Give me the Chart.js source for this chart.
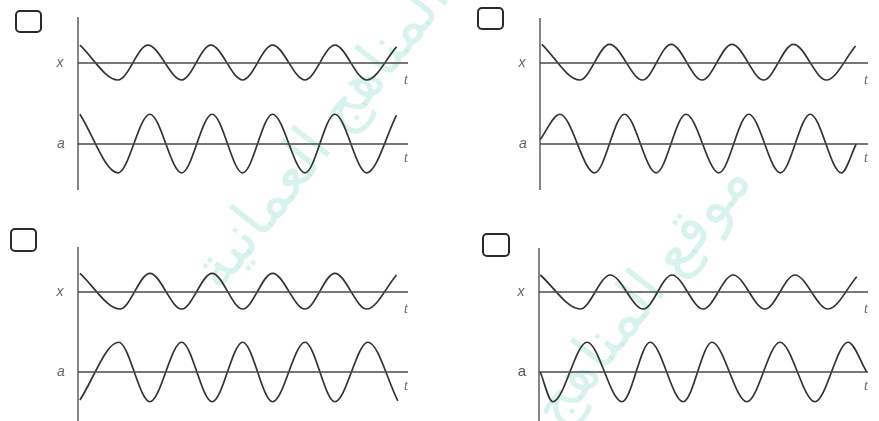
<!DOCTYPE html>
<html>
<head>
<meta charset="utf-8">
<script src="https://cdn.jsdelivr.net/npm/chart.js@4.4.1/dist/chart.umd.min.js"></script>
<style>
html, body { margin: 0; padding: 0; background: #fff; }
#page { position: relative; width: 879px; height: 421px; overflow: hidden; background: #fff; }
canvas.panel { position: absolute; }
.box { position: absolute; border: 2px solid #2a2a2a; border-radius: 5px; box-sizing: border-box; }
.wm { position: absolute; font-family: "Noto Sans", "DejaVu Sans", sans-serif; color: rgba(110, 212, 190, 0.27);
      white-space: nowrap; transform-origin: center center; font-weight: 400; }
</style>
</head>
<body>
<div id="page">
  <div class="wm" style="left:130px; top:90px; font-size:60px; transform: rotate(-52deg);">المناهج العمانية</div>
  <div class="wm" style="left:480px; top:250px; font-size:60px; transform: rotate(-52deg);">موقع المناهج</div>
</div>
<script>
// time is in periods, displacement in units of the x amplitude

// panel 1 (top left): a in phase with x
const p1xT = [0, 0.6, 1.07, 1.6, 2.06, 2.56, 3.03, 3.54, 4.01, 4.51, 4.98];
const p1xV = [1.05, -1, 1.05, -1, 1.05, -1, 1.05, -1, 1.05, -1, 0.95];
const p1aT = [0, 0.6, 1.1, 1.6, 2.08, 2.56, 3.03, 3.54, 4.01, 4.51, 4.98];
const p1aV = [1.75, -1.7, 1.75, -1.7, 1.75, -1.7, 1.75, -1.7, 1.75, -1.7, 1.7];

// panel 2 (top right): a a quarter period ahead
const p2xT = [0, 0.61, 1.09, 1.62, 2.08, 2.58, 3.06, 3.57, 4.05, 4.58, 5.05];
const p2xV = [1.1, -1, 1.1, -1, 1.1, -1, 1.1, -1, 1.1, -1, 1.0];
const p2aT = [-0.03, 0.29, 0.85, 1.33, 1.84, 2.32, 2.85, 3.33, 3.84, 4.32, 4.82, 5.06];
const p2aV = [0.25, 1.75, -1.7, 1.75, -1.7, 1.75, -1.7, 1.75, -1.7, 1.75, -1.7, 0];

// panel 3 (bottom left): a in antiphase with x
const p3xT = [0, 0.63, 1.1, 1.6, 2.08, 2.56, 3.03, 3.54, 4.01, 4.51, 4.98];
const p3xV = [1.1, -1, 1.1, -1, 1.1, -1, 1.1, -1, 1.1, -1, 1.0];
const p3aT = [0, 0.61, 1.1, 1.6, 2.08, 2.56, 3.03, 3.54, 4.01, 4.53, 5.0];
const p3aV = [-1.65, 1.75, -1.75, 1.75, -1.75, 1.75, -1.75, 1.75, -1.75, 1.75, -1.7];

// panel 4 (bottom right): a a quarter period behind
const p4xT = [0, 0.64, 1.12, 1.65, 2.11, 2.61, 3.09, 3.6, 4.08, 4.61, 5.07];
const p4xV = [1.0, -1, 1.0, -1, 1.0, -1, 1.0, -1, 1.0, -1, 0.9];
const p4aT = [0, 0.2, 0.75, 1.31, 1.76, 2.29, 2.75, 3.31, 3.84, 4.4, 4.93, 5.23];
const p4aV = [0, -1.75, 1.75, -1.75, 1.75, -1.75, 1.75, -1.75, 1.75, -1.75, 1.75, 0];

// visible time range of each panel
const tMin = [-0.03, -0.03, -0.03, -0.02];
const tMax = [5.16, 5.25, 5.16, 5.25];

const axisLabels = ['x', 'a', 't'];

// layout of the four panels in page pixels
const UNIT = 17;
const panels = [
  { left: 78,  right: 408, top: 17,  bottom: 190, xBase: 63,  aBase: 144, box: [15, 10, 27, 23],  upright: false },
  { left: 540, right: 868, top: 18,  bottom: 190, xBase: 63,  aBase: 144, box: [477, 7, 27, 23],  upright: false },
  { left: 78,  right: 408, top: 247, bottom: 430, xBase: 292, aBase: 372, box: [10, 228, 27, 24], upright: false },
  { left: 539, right: 868, top: 248, bottom: 430, xBase: 292, aBase: 372, box: [482, 233, 28, 24], upright: true }
];
const series = [[p1xT, p1xV, p1aT, p1aV], [p2xT, p2xV, p2aT, p2aV], [p3xT, p3xV, p3aT, p3aV], [p4xT, p4xV, p4aT, p4aV]];

const PAD = { left: 32, right: 16, top: 4, bottom: 4 };
const page = document.getElementById('page');

function pts(ts, vs) {
  return ts.map((t, i) => ({ x: t, y: vs[i] }));
}

const labelPlugin = {
  id: 'labels',
  afterDraw(chart, args, opts) {
    const ctx = chart.ctx;
    const area = chart.chartArea;
    const yx = chart.scales.yX, ya = chart.scales.yA;
    ctx.save();
    // vertical axis
    ctx.strokeStyle = '#444';
    ctx.lineWidth = 1.3;
    ctx.beginPath();
    ctx.moveTo(area.left, area.top);
    ctx.lineTo(area.left, area.bottom);
    ctx.stroke();

    const px = yx.getPixelForValue(0), pa = ya.getPixelForValue(0);
    ctx.fillStyle = '#666';
    ctx.textBaseline = 'middle';
    ctx.textAlign = 'center';
    ctx.font = 'italic 14px "Liberation Sans"';
    ctx.fillText(axisLabels[0], area.left - 18, px);
    if (opts.upright) {
      ctx.fillStyle = '#555';
      ctx.font = '15px "Liberation Sans"';
    }
    ctx.fillText(axisLabels[1], area.left - 17, pa);
    ctx.fillStyle = '#666';
    ctx.font = 'italic 14px "Liberation Serif"';
    ctx.fillText(axisLabels[2], area.right - 2, px + 17);
    ctx.fillText(axisLabels[2], area.right - 2, pa + 14);
    ctx.restore();
  }
};

panels.forEach((p, i) => {
  const [xT, xV, aT, aV] = series[i];
  const cv = document.createElement('canvas');
  cv.className = 'panel';
  const w = p.right - p.left + PAD.left + PAD.right;
  const h = p.bottom - p.top + PAD.top + PAD.bottom;
  cv.width = w; cv.height = h;
  cv.style.left = (p.left - PAD.left) + 'px';
  cv.style.top = (p.top - PAD.top) + 'px';
  cv.style.width = w + 'px';
  cv.style.height = h + 'px';
  page.appendChild(cv);

  const box = document.createElement('div');
  box.className = 'box';
  box.style.left = p.box[0] + 'px';
  box.style.top = p.box[1] + 'px';
  box.style.width = p.box[2] + 'px';
  box.style.height = p.box[3] + 'px';
  page.appendChild(box);

  const curve = (data, axis) => ({
    data: data, yAxisID: axis,
    borderColor: '#333', borderWidth: 1.7,
    pointRadius: 0, cubicInterpolationMode: 'monotone', clip: false, fill: false
  });
  const base = (axis) => ({
    data: [{ x: tMin[i], y: 0 }, { x: tMax[i], y: 0 }], yAxisID: axis,
    borderColor: '#4a4a4a', borderWidth: 1.3, pointRadius: 0, clip: false, fill: false
  });

  new Chart(cv.getContext('2d'), {
    type: 'line',
    data: {
      datasets: [
        base('yX'), base('yA'),
        curve(pts(xT, xV), 'yX'),
        curve(pts(aT, aV), 'yA')
      ]
    },
    options: {
      responsive: false,
      animation: false,
      events: [],
      layout: { padding: PAD },
      plugins: { legend: { display: false }, tooltip: { enabled: false }, labels: { upright: p.upright } },
      scales: {
        x: { type: 'linear', min: tMin[i], max: tMax[i], display: false },
        yX: { type: 'linear', min: -(p.bottom - p.xBase) / UNIT, max: (p.xBase - p.top) / UNIT, display: false },
        yA: { type: 'linear', min: -(p.bottom - p.aBase) / UNIT, max: (p.aBase - p.top) / UNIT, display: false }
      }
    },
    plugins: [labelPlugin]
  });
});
</script>
</body>
</html>
